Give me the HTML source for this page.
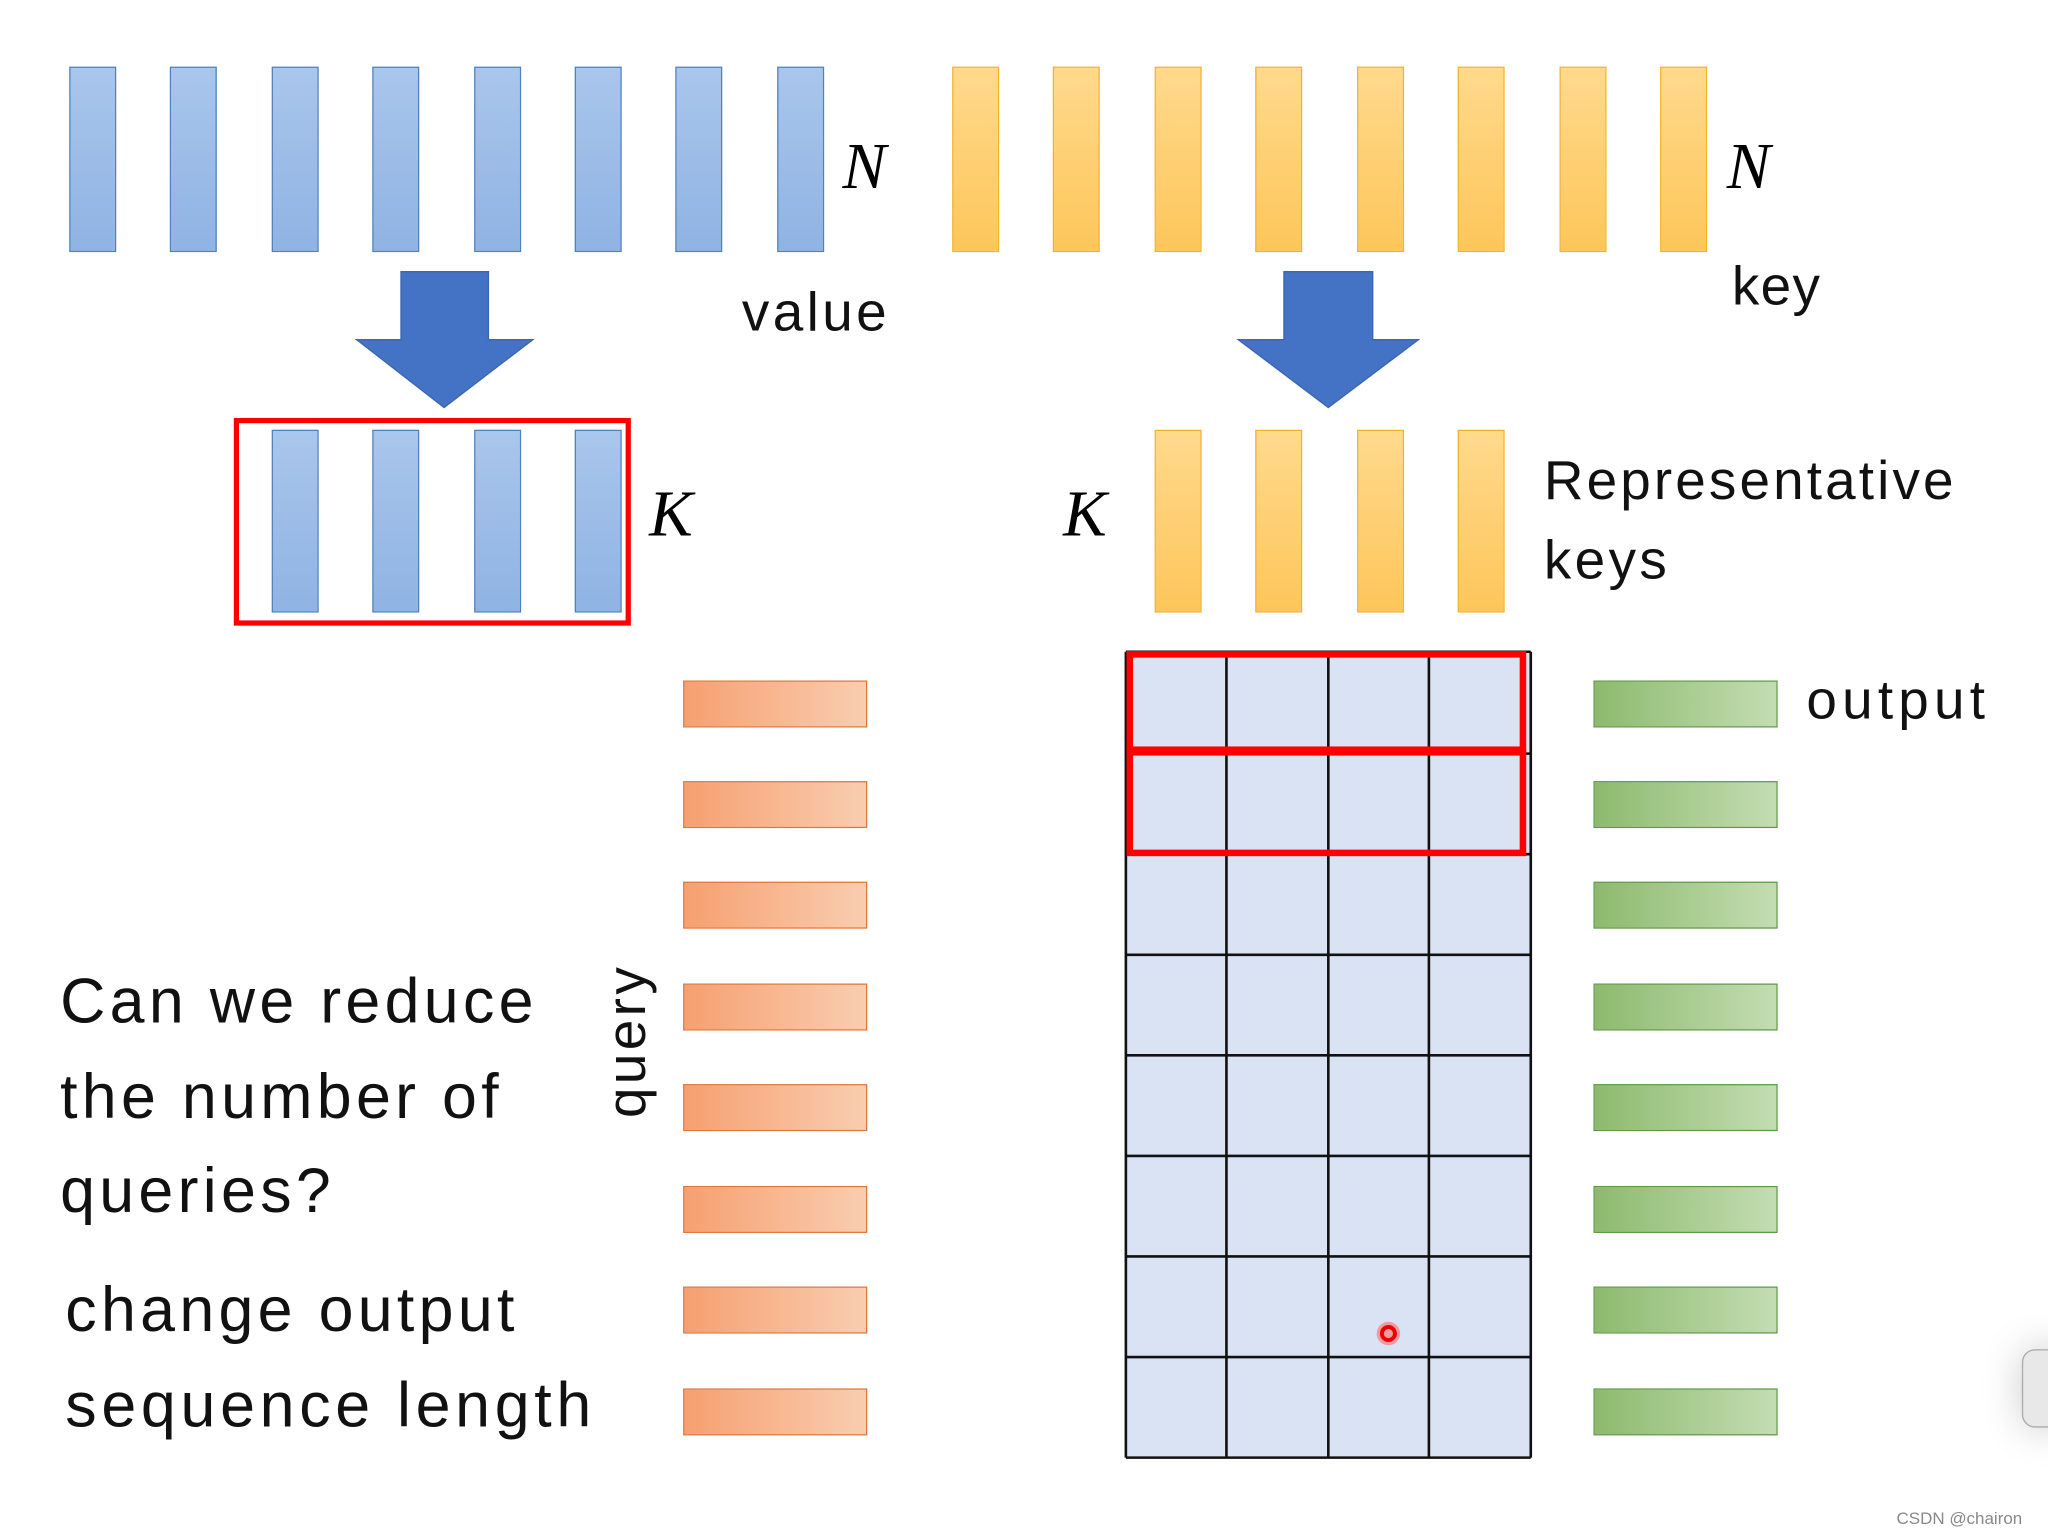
<!DOCTYPE html><html><head><style>
body{margin:0;width:2048px;height:1536px;overflow:hidden;background:#fff}
#w{position:absolute;left:0;top:0;width:1568px;height:1176px;transform:scale(1.30612);transform-origin:0 0;font-family:"Liberation Sans","DejaVu Sans",sans-serif}
.b{position:absolute;width:36px;box-sizing:border-box;border:1.5px solid #4f81bd;background:linear-gradient(#a9c6ec,#8fb3e3)}
.o{position:absolute;width:36px;box-sizing:border-box;border:1.5px solid #f0b429;background:linear-gradient(#ffd98c,#fdc65a)}
.q{position:absolute;left:523px;width:141px;height:36px;box-sizing:border-box;border:1.5px solid #e0773a;background:linear-gradient(90deg,#f6a070,#f9cdb0)}
.g{position:absolute;left:1220px;width:141px;height:36px;box-sizing:border-box;border:1.5px solid #5e9a45;background:linear-gradient(90deg,#8dba6e,#c3ddb2)}
.t{position:absolute;white-space:nowrap;color:#111;line-height:1;letter-spacing:2.6px}
.L{letter-spacing:3.3px}
.i{position:absolute;font-family:"Liberation Serif",serif;font-style:italic;font-size:50px;line-height:1}
</style></head><body><div id="w">
<div class="b" style="left:53px;top:51px;height:142px"></div>
<div class="b" style="left:130px;top:51px;height:142px"></div>
<div class="b" style="left:208px;top:51px;height:142px"></div>
<div class="b" style="left:285px;top:51px;height:142px"></div>
<div class="b" style="left:363px;top:51px;height:142px"></div>
<div class="b" style="left:440px;top:51px;height:142px"></div>
<div class="b" style="left:517px;top:51px;height:142px"></div>
<div class="b" style="left:595px;top:51px;height:142px"></div>
<div class="o" style="left:729px;top:51px;height:142px"></div>
<div class="o" style="left:806px;top:51px;height:142px"></div>
<div class="o" style="left:884px;top:51px;height:142px"></div>
<div class="o" style="left:961px;top:51px;height:142px"></div>
<div class="o" style="left:1039px;top:51px;height:142px"></div>
<div class="o" style="left:1116px;top:51px;height:142px"></div>
<div class="o" style="left:1194px;top:51px;height:142px"></div>
<div class="o" style="left:1271px;top:51px;height:142px"></div>
<div class="i" style="left:645px;top:102px">N</div>
<div class="i" style="left:1322px;top:102px">N</div>
<div class="t" style="left:568px;top:218px;font-size:42px">value</div>
<div class="t" style="left:1326px;top:198px;font-size:42px;letter-spacing:1px">key</div>
<svg style="position:absolute;left:0;top:0" width="1568" height="1176">
<polygon points="307,208 374,208 374,260 408,260 340,312 273,260 307,260" fill="#4472c4" stroke="#3b66b3"/>
<polygon points="983,208 1051,208 1051,260 1086,260 1017,312 948,260 983,260" fill="#4472c4" stroke="#3b66b3"/>
<rect x="862" y="499" width="310" height="617" fill="#dae3f3"/>
<g stroke="#111" stroke-width="2">
<line x1="862" y1="499" x2="862" y2="1116"/><line x1="939" y1="499" x2="939" y2="1116"/><line x1="1017" y1="499" x2="1017" y2="1116"/><line x1="1094" y1="499" x2="1094" y2="1116"/><line x1="1172" y1="499" x2="1172" y2="1116"/>
<line x1="862" y1="499" x2="1172" y2="499"/><line x1="862" y1="577" x2="1172" y2="577"/><line x1="862" y1="654" x2="1172" y2="654"/><line x1="862" y1="731" x2="1172" y2="731"/><line x1="862" y1="808" x2="1172" y2="808"/><line x1="862" y1="885" x2="1172" y2="885"/><line x1="862" y1="962" x2="1172" y2="962"/><line x1="862" y1="1039" x2="1172" y2="1039"/><line x1="862" y1="1116" x2="1172" y2="1116"/>
</g>
<rect x="865" y="501" width="301" height="73" fill="none" stroke="#f00" stroke-width="5"/>
<rect x="865" y="576" width="301" height="77" fill="none" stroke="#f00" stroke-width="5"/>
<rect x="181" y="322" width="300" height="155" fill="none" stroke="#f00" stroke-width="4"/>
<circle cx="1063" cy="1021" r="9" fill="#f55" opacity=".5"/><circle cx="1063" cy="1021" r="5" fill="none" stroke="#e00" stroke-width="3"/>
</svg>
<div class="b" style="left:208px;top:329px;height:140px"></div>
<div class="b" style="left:285px;top:329px;height:140px"></div>
<div class="b" style="left:363px;top:329px;height:140px"></div>
<div class="b" style="left:440px;top:329px;height:140px"></div>
<div class="o" style="left:884px;top:329px;height:140px"></div>
<div class="o" style="left:961px;top:329px;height:140px"></div>
<div class="o" style="left:1039px;top:329px;height:140px"></div>
<div class="o" style="left:1116px;top:329px;height:140px"></div>
<div class="i" style="left:497px;top:368px">K</div>
<div class="i" style="left:814px;top:368px">K</div>
<div class="t" style="left:1182px;top:347px;font-size:42px;letter-spacing:2.4px">Representative</div>
<div class="t" style="left:1182px;top:408px;font-size:42px">keys</div>
<div class="t" style="left:1383px;top:515px;font-size:42px;letter-spacing:4px">output</div>
<div class="q" style="top:521px"></div><div class="q" style="top:598px"></div><div class="q" style="top:675px"></div><div class="q" style="top:753px"></div><div class="q" style="top:830px"></div><div class="q" style="top:908px"></div><div class="q" style="top:985px"></div><div class="q" style="top:1063px"></div>
<div class="g" style="top:521px"></div><div class="g" style="top:598px"></div><div class="g" style="top:675px"></div><div class="g" style="top:753px"></div><div class="g" style="top:830px"></div><div class="g" style="top:908px"></div><div class="g" style="top:985px"></div><div class="g" style="top:1063px"></div>
<div class="t L" style="left:46px;top:744px;font-size:48px">Can we reduce</div>
<div class="t L" style="left:46px;top:817px;font-size:48px">the number of</div>
<div class="t L" style="left:46px;top:889px;font-size:48px">queries?</div>
<div class="t L" style="left:50px;top:980px;font-size:48px">change output</div>
<div class="t L" style="left:50px;top:1053px;font-size:48px;letter-spacing:3.6px">sequence length</div>
<div class="t" style="left:425px;top:780px;font-size:42px;transform:rotate(-90deg);transform-origin:50% 50%;width:110px;text-align:center">query</div>
<div style="position:absolute;left:1548px;top:1033px;width:40px;height:58px;border:1.5px solid #aaa;border-radius:10px;background:#e8e8e8;box-shadow:0 0 30px #ccc"></div>
<div class="t" style="left:1452px;top:1156px;font-size:13px;color:#888;letter-spacing:0">CSDN @chairon</div>
</div></body></html>
